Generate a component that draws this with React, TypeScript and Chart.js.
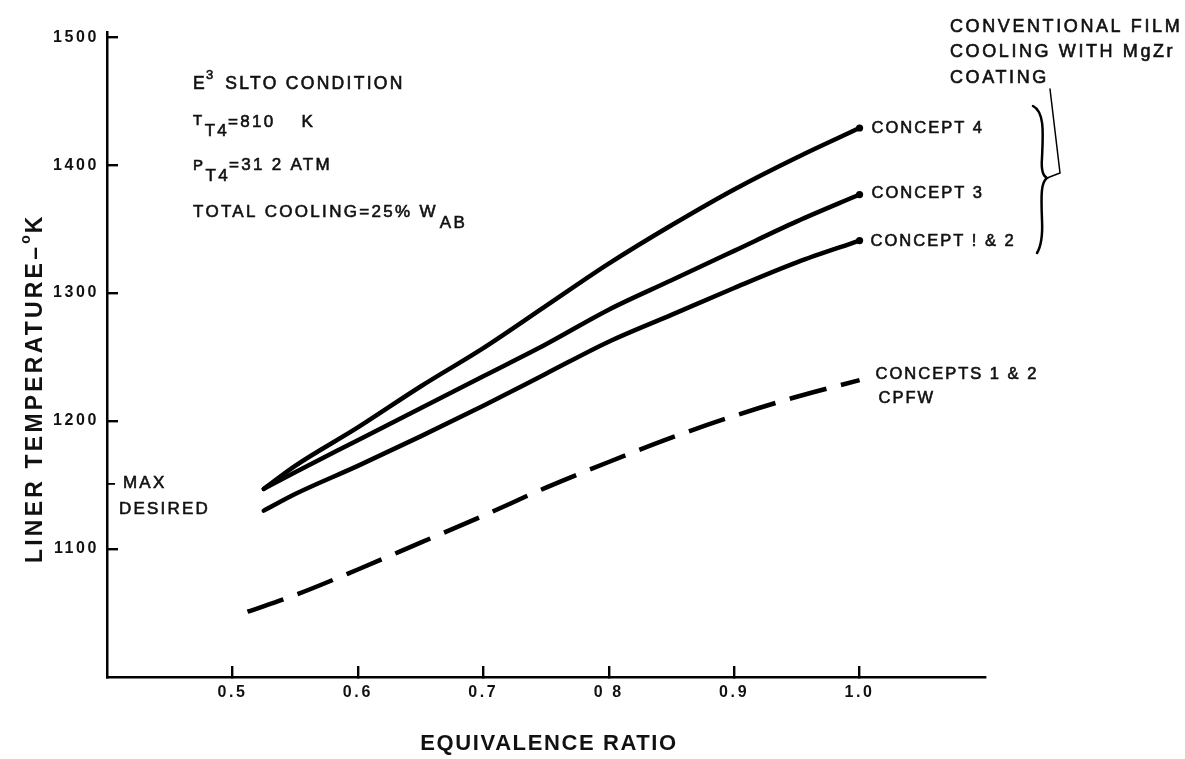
import React, { useEffect, useRef } from "react";
import { Chart, registerables } from "chart.js";

Chart.register(...registerables);

// ---- data ----
const phiSolid = [0.525, 0.55, 0.6, 0.65, 0.7, 0.75, 0.8, 0.85, 0.9, 0.95, 1.0];
const concept4 = [1147, 1165, 1195, 1227, 1257, 1290, 1323, 1353, 1381, 1406, 1429];
const concept3 = [1147, 1160, 1185, 1210, 1235, 1260, 1287, 1310, 1333, 1356, 1377];
const concept12 = [1130, 1143, 1165, 1188, 1212, 1237, 1262, 1283, 1304, 1324, 1341];
const phiCpfw = [0.512, 0.55, 0.6, 0.65, 0.7, 0.75, 0.8, 0.85, 0.9, 0.95, 1.0];
const cpfw = [1051, 1064, 1084, 1105, 1126, 1148, 1168, 1187, 1204, 1219, 1232];

const xTickValues = [0.5, 0.6, 0.7, 0.8, 0.9, 1.0];
const xTickLabels = ["0.5", "0.6", "0.7", "0 8", "0.9", "1.0"];
const yTickValues = [1100, 1200, 1300, 1400, 1500];
const yTickLabels = ["1100", "1200", "1300", "1400", "1500"];
const maxDesired = 1151;

const FONT = '"Liberation Sans", Arial, Helvetica, sans-serif';

function pts(xs: number[], ys: number[]) {
  return xs.map((x, i) => ({ x, y: ys[i] }));
}

function txt(
  ctx: CanvasRenderingContext2D,
  s: string,
  x: number,
  y: number,
  size: number,
  ls = 2,
  weight = "normal",
  baseline: CanvasTextBaseline = "alphabetic",
  stroke = 0.6,
  align: CanvasTextAlign = "left"
) {
  ctx.font = `${weight} ${size}px ${FONT}`;
  (ctx as any).letterSpacing = `${ls}px`;
  ctx.textBaseline = baseline;
  ctx.textAlign = align;
  ctx.fillStyle = "#111";
  ctx.fillText(s, x, y);
  if (stroke > 0) {
    ctx.lineWidth = stroke;
    ctx.strokeStyle = "#111";
    ctx.strokeText(s, x, y);
  }
  return x + ctx.measureText(s).width;
}

const decorPlugin = {
  id: "decor",
  beforeDraw(chart: any) {
    const ctx = chart.ctx as CanvasRenderingContext2D;
    ctx.save();
    ctx.fillStyle = "#fff";
    ctx.fillRect(0, 0, chart.width, chart.height);
    ctx.restore();
    (ctx as any).letterSpacing = "2.6px";
  },
  afterDraw(chart: any) {
    const ctx = chart.ctx as CanvasRenderingContext2D;
    const xs = chart.scales.x;
    const ys = chart.scales.y;
    const area = chart.chartArea;
    const left = area.left;
    ctx.save();
    ctx.setLineDash([]);
    ctx.globalAlpha = 1;

    // MAX DESIRED
    const my = ys.getPixelForValue(maxDesired);
    ctx.fillStyle = "#000";
    ctx.fillRect(left, Math.round(my) - 1, 8, 1.8);
    txt(ctx, "MAX", left + 16, my, 17, 2.2, "normal", "middle");
    txt(ctx, "DESIRED", left + 12, my + 26, 17, 2.2, "normal", "middle");

    // condition block
    let x = txt(ctx, "E", 193, 89, 17.5, 2.3);
    x = txt(ctx, "3", x - 1, 79, 13, 1);
    txt(ctx, " SLTO CONDITION", x + 4, 89, 17.5, 2.3);

    x = txt(ctx, "T", 193, 125, 15, 1.5);
    x = txt(ctx, "T4", x + 1, 136, 17, 2.3);
    x = txt(ctx, "=810", x - 1, 127, 17, 2.3);
    txt(ctx, "K", x + 26, 127, 17, 2.3);

    x = txt(ctx, "P", 193, 170, 15, 1.5);
    x = txt(ctx, "T4", x + 1, 181, 17, 2.3);
    txt(ctx, "=31 2 ATM", x - 1, 170, 17, 2.3);

    x = txt(ctx, "TOTAL COOLING=25% W", 193, 217, 17, 2.3);
    txt(ctx, "AB", x + 2, 228, 17, 2.3);

    // curve labels
    const xe = xs.getPixelForValue(1.0);
    txt(ctx, "CONCEPT 4", xe + 12, ys.getPixelForValue(concept4[concept4.length - 1]), 16.5, 2, "normal", "middle");
    txt(ctx, "CONCEPT 3", xe + 12, ys.getPixelForValue(concept3[concept3.length - 1]) - 1, 16.5, 2, "normal", "middle");
    txt(ctx, "CONCEPT ! & 2", xe + 11, ys.getPixelForValue(concept12[concept12.length - 1]) + 1, 16.5, 2, "normal", "middle");
    const ce = ys.getPixelForValue(cpfw[cpfw.length - 1]);
    txt(ctx, "CONCEPTS 1 & 2", xe + 16, ce - 6, 16.5, 2, "normal", "middle");
    txt(ctx, "CPFW", xe + 19, ce + 18, 16.5, 2, "normal", "middle");

    // bracket note
    txt(ctx, "CONVENTIONAL FILM", 950, 32, 18, 2.6);
    txt(ctx, "COOLING WITH MgZr", 950, 57, 18, 2.6);
    txt(ctx, "COATING", 950, 83, 18, 2.6);

    ctx.lineWidth = 2.5;
    ctx.lineCap = "round";
    ctx.strokeStyle = "#000";
    ctx.beginPath();
    ctx.moveTo(1033, 106);
    ctx.bezierCurveTo(1045, 112, 1043, 135, 1042, 158);
    ctx.bezierCurveTo(1041, 170, 1043, 176, 1047, 178);
    ctx.bezierCurveTo(1041, 182, 1041, 195, 1042, 220);
    ctx.bezierCurveTo(1043, 240, 1040, 248, 1037, 253);
    ctx.stroke();
    ctx.lineWidth = 1.5;
    ctx.beginPath();
    ctx.moveTo(1050, 89);
    ctx.lineTo(1060, 173);
    ctx.lineTo(1047, 178);
    ctx.stroke();

    // axis titles
    txt(ctx, "EQUIVALENCE RATIO", (area.left + area.right) / 2 + 3, 750, 22, 1.6, "bold", "alphabetic", 0, "center");

    ctx.save();
    ctx.translate(42, 563);
    ctx.rotate(-Math.PI / 2);
    let tx = txt(ctx, "LINER TEMPERATURE–", 0, 0, 23, 3.2, "bold", "alphabetic", 0);
    tx = txt(ctx, "o", tx, -12, 14, 1, "bold", "alphabetic", 0);
    txt(ctx, "K", tx + 1, 0, 23, 2, "bold", "alphabetic", 0);
    ctx.restore();

    ctx.restore();
  },
};

export default function App() {
  const ref = useRef<HTMLCanvasElement>(null);
  useEffect(() => {
    document.body.style.margin = "0";
    const canvas = ref.current!;
    const solid = {
      borderColor: "#000",
      borderWidth: 4.5,
      borderCapStyle: "round" as const,
      borderJoinStyle: "round" as const,
      cubicInterpolationMode: "monotone" as const,
      pointBackgroundColor: "#000",
      pointBorderWidth: 0,
      fill: false,
    };
    const endDot = (n: number) => (c: any) => (c.dataIndex === n - 1 ? 3.6 : 0);
    const tickFont = { family: FONT, size: 16, weight: "bold" as const };
    const insideTicks = {
      display: true,
      drawOnChartArea: false,
      drawTicks: true,
      tickLength: -11,
      color: "#000",
      lineWidth: 2.4,
    };
    const chart = new Chart(canvas, {
      type: "line",
      data: {
        datasets: [
          { label: "Concept 4", data: pts(phiSolid, concept4), ...solid, pointRadius: endDot(phiSolid.length) },
          { label: "Concept 3", data: pts(phiSolid, concept3), ...solid, pointRadius: endDot(phiSolid.length) },
          { label: "Concept 1 & 2", data: pts(phiSolid, concept12), ...solid, pointRadius: endDot(phiSolid.length) },
          {
            label: "Concepts 1 & 2 CPFW",
            data: pts(phiCpfw, cpfw),
            ...solid,
            borderCapStyle: "butt" as const,
            borderDash: [38, 15],
            pointRadius: 0,
          },
        ],
      },
      options: {
        animation: false,
        responsive: false,
        devicePixelRatio: 1,
        layout: { padding: { left: 0, top: 32, right: 200, bottom: 0 } },
        plugins: { legend: { display: false }, tooltip: { enabled: false }, title: { display: false } },
        scales: {
          x: {
            type: "linear",
            min: 0.4,
            max: 1.1,
            afterBuildTicks: (s: any) => {
              s.ticks = xTickValues.map((v) => ({ value: v }));
            },
            afterFit: (s: any) => {
              s.height = 82;
            },
            ticks: {
              autoSkip: false,
              maxRotation: 0,
              padding: 17,
              color: "#111",
              font: tickFont,
              callback: (v: any) => {
                const i = xTickValues.findIndex((t) => Math.abs(t - Number(v)) < 1e-6);
                return i >= 0 ? xTickLabels[i] : "";
              },
            },
            grid: insideTicks,
            border: { display: true, color: "#000", width: 2.5 },
          },
          y: {
            type: "linear",
            min: 1000,
            max: 1504,
            afterBuildTicks: (s: any) => {
              s.ticks = yTickValues.map((v) => ({ value: v }));
            },
            afterFit: (s: any) => {
              s.width = 107;
            },
            ticks: {
              autoSkip: false,
              padding: 19,
              color: "#111",
              font: tickFont,
              callback: (v: any) => {
                const i = yTickValues.findIndex((t) => Math.abs(t - Number(v)) < 1e-6);
                return i >= 0 ? yTickLabels[i] : "";
              },
            },
            grid: insideTicks,
            border: { display: true, color: "#000", width: 2.5 },
          },
        },
      },
      plugins: [decorPlugin],
    });
    return () => chart.destroy();
  }, []);
  return (
    <div style={{ position: "absolute", left: 0, top: 0, width: 1185, height: 759, background: "#fff" }}>
      <canvas ref={ref} width={1185} height={759} style={{ width: 1185, height: 759, display: "block" }} />
    </div>
  );
}
